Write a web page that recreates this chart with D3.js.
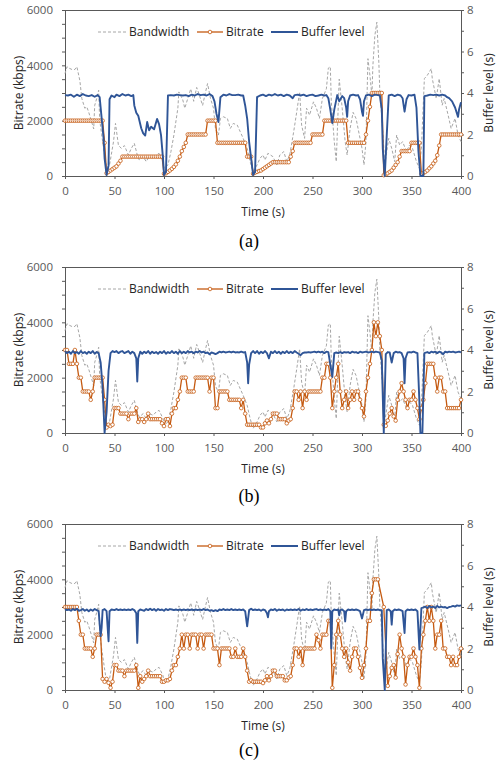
<!DOCTYPE html>
<html>
<head>
<meta charset="utf-8">
<script src="https://cdn.jsdelivr.net/npm/d3@7"></script>
<style>
  body { margin: 0; background: #fff; }
  svg { display: block; }
</style>
</head>
<body>
<div id="chart"></div>
<script>
// ---- data -------------------------------------------------------------
const chunkSeconds = 2; // one bitrate marker per 2 s chunk (null = no chunk in that slot)
const timeTicks = [0, 50, 100, 150, 200, 250, 300, 350, 400];
const rateTicks = [0, 2000, 4000, 6000];
const bufferTicks = [0, 2, 4, 6, 8];
const panelLabels = ["(a)", "(b)", "(c)"];
const seriesNames = ["Bandwidth", "Bitrate", "Buffer level"];

// measured bandwidth, same trace in all three runs: [time s, kbps]
const bandwidth = [
  [0,3700],[2,3950],[4,3900],[7,3850],[10,3850],[12,3950],[15,3450],[17,2800],[20,2450],[22,2500],
  [24,2300],[27,1950],[29,1700],[30,2550],[32,2800],[34,3100],[35,2050],[37,1500],[39,1000],[42,280],
  [45,400],[49,1240],[51,1900],[54,1100],[57,1000],[60,1100],[64,760],[67,1000],[70,1180],[73,760],
  [75,580],[79,700],[82,520],[85,700],[89,640],[92,760],[95,820],[99,520],[100,280],[104,400],
  [107,880],[110,1480],[114,2450],[115,3040],[119,2750],[121,2450],[124,2800],[127,3150],[130,2700],[133,3200],
  [135,3000],[139,2550],[142,3040],[144,3340],[147,2800],[150,2450],[152,1700],[155,1480],[157,2080],[160,2140],
  [164,2080],[167,1720],[170,1900],[174,1840],[177,1600],[180,1360],[184,1000],[187,520],[190,160],[194,400],
  [197,640],[200,760],[202,580],[205,820],[210,700],[214,400],[217,760],[221,880],[224,520],[227,760],
  [231,1600],[234,2300],[237,3040],[239,1840],[242,1360],[244,2450],[247,2200],[251,2680],[254,2450],[257,2080],
  [260,2800],[264,3150],[266,3900],[268,3950],[269,2680],[272,1240],[274,520],[277,3500],[280,2450],[283,1240],
  [285,760],[288,1720],[291,2300],[294,2080],[296,1720],[300,1000],[302,400],[304,1240],[306,4240],[308,3640],
  [310,2900],[311,4000],[313,5080],[315,5560],[317,4120],[318,3040],[321,1600],[323,400],[327,1360],[330,1000],
  [333,520],[335,1480],[338,1120],[341,1240],[345,880],[348,1120],[351,1000],[355,520],[358,280],[360,1000],
  [363,3520],[366,3640],[370,3880],[371,3520],[375,2800],[378,3520],[381,2560],[383,2800],[387,2200],[390,1720],
  [394,2080],[397,1480],[400,1240]
];

// selected bitrate per chunk (kbps), t = 0, 2, 4 ... 400
const bitrateA = [
  2000,2000,2000,2000,2000,2000,2000,2000,2000,2000,
  2000,2000,2000,2000,2000,2000,2000,2000,2000,2000,
  1200,100,150,200,250,300,350,450,550,700,
  700,700,700,700,700,700,700,700,700,700,
  700,700,700,700,700,700,700,700,700,700,
  80,100,150,200,260,330,420,550,700,900,
  1050,1200,1500,1500,1500,1500,1500,1500,1500,1500,
  1500,1500,2000,2000,2000,2000,2000,1200,1200,1200,
  1200,1200,1200,1200,1200,1200,1200,1200,1200,1200,
  1200,1200,700,700,700,80,120,150,180,200,
  250,300,350,400,450,500,500,500,500,500,
  500,500,500,500,700,900,1200,1200,1200,1200,
  1200,1200,1200,1200,1200,1500,1500,1500,1500,1500,
  1500,2000,2000,2000,2000,2000,2000,2000,2000,2000,
  2000,2000,2000,1200,1200,1200,1200,1200,1200,1200,
  1200,1200,1500,2000,2500,3000,3000,3000,3000,3000,
  3000,30,60,100,150,200,300,400,500,700,
  900,900,900,900,900,1200,1200,1200,1200,1200,
  80,100,150,200,280,350,450,550,750,1100,
  1500,1500,1500,1500,1500,1500,1500,1500,1500,1500,
  1500
];
const bitrateB = [
  3000,3000,2500,2500,2500,3000,2500,2000,2000,1500,
  1500,1500,1500,1200,1500,2000,2000,2000,2000,2000,
  1200,200,300,250,300,900,900,900,700,700,
  700,700,500,700,700,700,900,400,500,500,
  400,500,700,500,500,500,500,500,500,350,
  250,500,500,250,700,900,900,1200,1500,2000,
  2000,2000,1500,1500,1500,1500,2000,2000,2000,2000,
  2000,2000,2000,1500,2000,2000,900,900,1500,1500,
  1500,1500,1500,1200,1200,1200,1200,1200,1200,900,
  1200,700,300,300,300,300,300,300,300,200,
  200,350,450,350,500,700,700,700,500,500,
  500,500,350,450,500,900,1500,1500,1200,1500,
  900,1500,1200,1500,1500,1500,1500,1500,1500,1500,
  2000,2000,2500,2500,2000,900,1500,2000,2500,1500,
  900,1200,1500,900,1200,1500,1200,1500,1500,1200,
  900,600,1500,2000,2500,3000,4000,3500,4000,3500,
  3000,300,260,450,700,900,600,450,1200,1500,
  1800,1500,1200,900,1200,1200,1500,1200,900,500,
  900,1200,1800,2500,2500,2500,2500,2000,1500,2000,
  2000,1500,1500,900,900,900,900,900,900,900,
  1200
];
const bitrateC = [
  3000,3000,3000,3000,3000,3000,3000,2500,2000,2000,
  1500,1500,1500,1500,1200,1500,2000,2000,2000,400,
  300,400,260,80,300,900,900,700,700,700,
  500,700,700,700,700,700,900,80,500,300,
  400,500,700,500,500,500,500,500,500,300,
  300,350,350,400,700,900,900,1200,1500,2000,
  1500,2000,2000,1500,2000,2000,2000,1500,2000,2000,
  1500,2000,2000,2000,2000,1500,1500,1500,900,1500,
  1500,1500,1500,1500,1200,1200,1500,1200,1200,1200,
  1500,1200,700,300,350,300,300,300,300,300,
  250,350,500,350,500,700,700,500,500,500,
  500,350,350,450,500,900,1500,1500,1200,1500,
  900,1500,1500,1500,1500,1500,1500,2000,1800,1500,
  2000,2000,2000,2500,2500,80,900,2000,2500,2000,
  1500,1200,1500,1000,700,1200,1500,1500,1200,800,
  440,900,1500,2500,2500,3500,4000,4000,4000,null,
  null,3000,null,150,500,800,900,450,1300,2000,
  1500,1200,200,900,1200,1200,1500,1200,900,80,
  1500,2000,2500,3000,2500,3000,2500,1500,2000,2000,
  2500,1500,1500,1200,1200,900,1200,900,900,1200,
  1500
];

// buffer level (s): [time s, seconds]
const bufferA = [
  [0,3.9],[3,3.88],[6,3.92],[9,3.82],[12,3.92],[15,3.85],[18,3.95],[21,3.88],[24,3.85],[27,3.9],
  [30,3.82],[33,3.9],[35,3.8],[37,2.8],[39,1.8],[40,0.85],[42,0.05],[44,0.5],[45,3.7],[47,3.88],
  [50,3.8],[52,3.92],[55,3.85],[58,3.95],[61,3.88],[64,3.92],[67,3.85],[69,3.9],[70,3.4],[72,3.05],
  [74,2.9],[77,2.3],[79,2.05],[81,1.95],[83,2.6],[85,2.2],[87,2.37],[90,2.25],[93,2.75],[95,2.5],
  [97,1.97],[99,0.85],[100,0.05],[102,0.2],[104,3.88],[107,3.9],[110,3.88],[113,3.92],[116,3.9],[119,3.88],
  [122,3.9],[125,3.85],[128,3.92],[131,3.88],[134,3.95],[137,3.9],[140,3.92],[143,3.88],[146,3.95],[149,3.85],
  [151,3.6],[153,3.0],[155,2.6],[157,3.8],[160,3.92],[163,3.88],[166,3.95],[169,3.9],[172,3.9],[175,3.92],
  [178,3.88],[180,3.88],[182,3.4],[184,2.77],[186,1.65],[188,0.85],[190,0.05],[192,0.2],[194,3.8],[197,3.88],
  [200,3.92],[203,3.85],[206,3.92],[209,3.88],[212,3.95],[215,3.88],[218,3.92],[221,3.85],[224,3.92],[227,3.88],
  [230,3.75],[232,3.9],[235,3.92],[238,3.88],[241,3.92],[244,3.85],[247,3.9],[250,3.92],[253,3.85],[256,3.88],
  [259,3.92],[262,3.88],[264,3.9],[266,3.75],[268,3.2],[270,2.55],[272,3.2],[275,3.9],[277,3.6],[280,3.85],
  [282,3.75],[284,3.3],[285,2.85],[286,3.6],[288,3.88],[291,3.92],[294,3.88],[296,3.9],[298,3.7],[300,3.1],
  [301,2.9],[302,3.6],[304,3.88],[307,3.92],[310,3.85],[313,3.92],[316,3.9],[318,3.88],[320,3.2],[321,1.3],
  [323,0.0],[325,1.97],[327,3.88],[330,3.92],[333,3.85],[336,3.92],[339,3.88],[341,3.75],[343,3.1],[345,3.7],
  [347,3.9],[350,3.88],[353,3.92],[355,3.3],[357,1.2],[359,0.0],[362,0.0],[363,3.85],[366,3.88],[369,3.92],
  [372,3.9],[375,3.92],[378,3.88],[381,3.92],[384,3.88],[386,3.8],[388,3.75],[391,3.6],[394,3.3],[397,2.85],
  [398,3.2],[400,3.55]
];
const bufferB = [
  [0,3.95],[2,3.85],[4,3.92],[6,3.82],[8,3.95],[10,3.85],[12,3.9],[14,3.82],[16,3.95],[18,3.85],
  [20,3.9],[22,3.82],[24,3.92],[26,3.85],[28,3.95],[30,3.82],[32,3.9],[34,3.85],[36,3.4],[38,2.2],
  [40,0],[42,1.0],[44,3.0],[46,3.85],[48,3.95],[50,3.9],[52,3.95],[54,3.85],[56,3.92],[58,3.95],
  [60,3.85],[62,3.9],[64,3.95],[66,3.82],[68,3.92],[70,3.85],[72,3.6],[73,2.48],[74,3.6],[76,3.92],
  [78,3.82],[80,3.92],[82,3.85],[84,3.95],[86,3.82],[88,3.92],[90,3.85],[92,3.9],[94,3.82],[96,3.92],
  [98,3.85],[100,3.95],[102,3.82],[104,3.9],[106,3.85],[108,3.95],[110,3.85],[112,3.92],[114,3.82],[116,3.95],
  [118,3.85],[120,3.92],[122,3.85],[124,3.95],[126,3.88],[128,3.92],[130,3.85],[132,3.92],[134,3.88],[136,3.95],
  [138,3.88],[140,3.92],[142,3.85],[144,3.88],[146,3.8],[148,3.88],[150,3.85],[152,3.8],[154,3.85],[156,3.92],
  [158,3.88],[160,3.92],[162,3.88],[164,3.9],[166,3.92],[168,3.88],[170,3.92],[172,3.88],[174,3.9],[176,3.88],
  [178,3.92],[180,3.88],[182,3.9],[184,3.4],[185,2.4],[186,3.3],[188,3.85],[190,3.95],[192,3.85],[194,3.95],
  [196,3.82],[198,3.92],[200,3.85],[202,3.95],[204,3.85],[206,3.6],[208,3.92],[210,3.85],[212,3.95],[214,3.85],
  [216,3.92],[218,3.82],[220,3.92],[222,3.85],[224,3.95],[226,3.85],[228,3.92],[230,3.85],[232,3.95],[234,3.88],
  [236,3.82],[238,3.75],[240,3.85],[242,3.88],[244,3.88],[246,3.9],[248,3.88],[250,3.9],[252,3.92],[254,3.88],
  [256,3.92],[258,3.88],[260,3.92],[262,3.85],[264,3.92],[266,3.9],[268,3.3],[270,2.7],[272,3.85],[274,3.88],
  [276,3.85],[278,3.9],[280,3.85],[282,3.9],[284,3.88],[286,3.9],[288,3.85],[290,3.92],[292,3.88],[294,3.9],
  [296,3.85],[298,3.92],[300,3.88],[302,3.9],[304,3.92],[306,3.88],[308,3.9],[310,3.92],[312,3.88],[314,3.92],
  [316,3.9],[318,3.88],[320,3.5],[322,0],[324,3.8],[326,3.9],[328,3.88],[330,3.4],[332,3.85],[334,3.92],
  [336,3.88],[338,3.9],[340,3.85],[342,3.6],[343,2.4],[344,3.6],[346,3.88],[348,3.9],[350,3.88],[352,3.92],
  [354,3.88],[356,3.85],[358,1.5],[359,0],[361,0],[363,3.85],[366,3.9],[368,3.85],[370,3.92],[372,3.88],
  [374,3.92],[376,3.85],[378,3.92],[380,3.88],[382,3.8],[384,3.92],[386,3.88],[388,3.92],[390,3.9],[392,3.92],
  [394,3.88],[396,3.9],[398,3.92],[400,3.88]
];
const bufferC = [
  [0,3.9],[2,3.85],[4,3.88],[6,3.82],[8,3.9],[10,3.85],[12,3.92],[14,3.82],[16,3.85],[18,3.9],
  [20,3.82],[22,3.88],[24,3.8],[26,3.88],[28,3.82],[30,3.9],[32,3.85],[34,3.8],[36,2.6],[37,3.0],
  [38,3.85],[40,3.9],[42,3.8],[44,2.35],[45,3.8],[47,3.88],[50,3.85],[52,3.9],[54,3.85],[56,3.88],
  [58,3.85],[60,3.88],[62,3.85],[64,3.88],[66,3.85],[68,3.9],[70,3.85],[72,3.7],[73,2.27],[74,3.8],
  [76,3.88],[78,3.85],[80,3.82],[82,3.9],[84,3.85],[86,3.92],[88,3.85],[90,3.9],[92,3.82],[94,3.9],
  [96,3.85],[98,3.88],[100,3.82],[102,3.9],[104,3.85],[106,3.9],[108,3.88],[110,3.85],[112,3.88],[114,3.85],
  [116,3.88],[118,3.85],[120,3.88],[122,3.85],[124,3.88],[126,3.85],[128,3.88],[130,3.85],[132,3.88],[134,3.85],
  [136,3.88],[138,3.85],[140,3.9],[142,3.85],[144,3.88],[146,3.82],[148,3.85],[150,3.8],[152,3.85],[154,3.8],
  [156,3.88],[158,3.85],[160,3.9],[162,3.85],[164,3.88],[166,3.85],[168,3.9],[170,3.85],[172,3.88],[174,3.85],
  [176,3.88],[178,3.85],[180,3.88],[182,3.8],[184,3.07],[186,3.85],[188,3.92],[190,3.85],[192,3.88],[194,3.85],
  [196,3.88],[198,3.82],[200,3.88],[202,3.85],[204,3.7],[205,3.5],[206,3.8],[208,3.88],[210,3.85],[212,3.9],
  [214,3.82],[216,3.88],[218,3.85],[220,3.88],[222,3.82],[224,3.88],[226,3.85],[228,3.88],[230,3.85],[232,3.88],
  [234,3.85],[236,3.9],[238,3.82],[240,3.88],[242,3.85],[244,3.9],[246,3.85],[248,3.88],[250,3.85],[252,3.88],
  [254,3.9],[256,3.85],[258,3.88],[260,3.85],[262,3.88],[264,3.85],[266,3.9],[268,3.8],[269,2.0],[270,3.8],
  [272,3.88],[274,3.85],[276,3.88],[277,3.6],[278,3.85],[280,3.88],[282,3.8],[283,3.3],[284,3.8],[286,3.88],
  [288,3.85],[290,3.88],[292,3.85],[294,3.88],[296,3.85],[298,3.8],[300,3.45],[302,3.85],[304,3.88],[306,3.85],
  [308,3.88],[310,3.85],[312,3.88],[314,3.85],[316,3.88],[318,3.85],[320,3.85],[321,1.5],[323,0],[325,3.85],
  [327,3.88],[329,3.8],[330,3.15],[331,3.8],[333,3.88],[335,3.85],[337,3.88],[339,3.85],[341,3.8],[343,2.75],
  [344,3.8],[346,3.88],[348,3.85],[350,3.88],[352,3.85],[354,3.88],[356,3.8],[358,1.95],[360,3.95],[362,3.98],
  [364,4.02],[366,3.95],[368,4.05],[370,3.98],[372,4.02],[374,3.95],[376,4.05],[378,3.98],[380,4.02],[382,3.98],
  [384,4.0],[386,3.95],[388,4.0],[390,4.02],[392,4.05],[394,4.02],[396,4.08],[398,4.05],[400,4.08]
];

// ---- layout -----------------------------------------------------------
const W = 497, H = 770;
const plotLeft = 65, plotRight = 461, plotHeight = 166;
const panels = [
  { label: panelLabels[0], bitrate: bitrateA, buffer: bufferA, top: 10, captionY: 241 },
  { label: panelLabels[1], bitrate: bitrateB, buffer: bufferB, top: 267, captionY: 496 },
  { label: panelLabels[2], bitrate: bitrateC, buffer: bufferC, top: 524, captionY: 750 }
];

const font = "'Open Sans', 'Liberation Sans', sans-serif";
const bwColor = "#a6a6a6";
const rateColor = "#c55a11";
const bufColor = "#2f5597";
const axisColor = "#595959";

const svg = d3.select("#chart")
  .append("svg")
  .attr("width", W)
  .attr("height", H)
  .style("background", "#fff");

const x = d3.scaleLinear().domain([0, 400]).range([plotLeft, plotRight]);

panels.forEach(drawPanel);

function styleAxis(g) {
  g.select("path.domain").remove();
  g.selectAll(".tick line").attr("stroke", axisColor);
  g.selectAll(".tick text")
    .attr("fill", axisColor)
    .style("font-family", font)
    .style("font-size", "11.5px");
}

function drawPanel(p) {
  const top = p.top;
  const bottom = top + plotHeight;
  const yRate = d3.scaleLinear().domain([0, 6000]).range([bottom, top]);
  const yBuf = d3.scaleLinear().domain([0, 8]).range([bottom, top]);
  const g = svg.append("g");

  // Axes
  g.append("g")
    .attr("transform", `translate(${plotLeft},0)`)
    .call(d3.axisLeft(yRate)
      .tickValues(d3.range(0, 6001, 500))
      .tickSize(3)
      .tickPadding(9)
      .tickFormat(d => rateTicks.includes(d) ? d : ""))
    .call(styleAxis);

  g.append("g")
    .attr("transform", `translate(${plotRight},0)`)
    .call(d3.axisRight(yBuf)
      .tickValues(d3.range(0, 9, 1))
      .tickSize(3)
      .tickPadding(3)
      .tickFormat(d => bufferTicks.includes(d) ? d : ""))
    .call(styleAxis);

  g.append("g")
    .attr("transform", `translate(0,${bottom})`)
    .call(d3.axisBottom(x).tickValues(timeTicks).tickSize(3).tickPadding(8))
    .call(styleAxis);

  // frame
  g.append("rect")
    .attr("x", plotLeft + 0.5)
    .attr("y", top + 0.5)
    .attr("width", plotRight - plotLeft)
    .attr("height", plotHeight)
    .attr("fill", "none")
    .attr("stroke", axisColor)
    .attr("stroke-width", 1);

  // Axis titles
  g.append("text")
    .attr("transform", `translate(19,${top + plotHeight / 2}) rotate(-90)`)
    .attr("text-anchor", "middle")
    .attr("dy", "0.35em")
    .style("font-family", font)
    .style("font-size", "12px")
    .attr("fill", "#262626")
    .text("Bitrate (kbps)");

  g.append("text")
    .attr("transform", `translate(489,${top + plotHeight / 2}) rotate(-90)`)
    .attr("text-anchor", "middle")
    .attr("dy", "0.35em")
    .style("font-family", font)
    .style("font-size", "12px")
    .attr("fill", "#262626")
    .text("Buffer level (s)");

  g.append("text")
    .attr("x", (plotLeft + plotRight) / 2)
    .attr("y", bottom + 36)
    .attr("text-anchor", "middle")
    .attr("dy", "0.35em")
    .style("font-family", font)
    .style("font-size", "12px")
    .attr("fill", "#262626")
    .text("Time (s)");

  // Bandwidth (dashed)
  const bwLine = d3.line().x(d => x(d[0])).y(d => yRate(d[1]));
  g.append("path")
    .datum(bandwidth)
    .attr("d", bwLine)
    .attr("fill", "none")
    .attr("stroke", bwColor)
    .attr("stroke-width", 1)
    .attr("stroke-dasharray", "3,2");

  // Bitrate with markers
  const ratePts = p.bitrate
    .map((v, i) => [i * chunkSeconds, v])
    .filter(d => d[1] != null);
  g.append("path")
    .datum(ratePts)
    .attr("d", d3.line().x(d => x(d[0])).y(d => yRate(d[1])))
    .attr("fill", "none")
    .attr("stroke", rateColor)
    .attr("stroke-width", 1.3);
  g.append("g")
    .selectAll("circle")
    .data(ratePts)
    .join("circle")
    .attr("cx", d => x(d[0]))
    .attr("cy", d => yRate(d[1]))
    .attr("r", 1.8)
    .attr("fill", "#fff")
    .attr("stroke", rateColor)
    .attr("stroke-width", 0.8);

  // Buffer level (secondary axis)
  g.append("path")
    .datum(p.buffer)
    .attr("d", d3.line().x(d => x(d[0])).y(d => yBuf(d[1])))
    .attr("fill", "none")
    .attr("stroke", bufColor)
    .attr("stroke-width", 1.9)
    .attr("stroke-linejoin", "round");

  // Legend
  const ly = top + 22;
  const legend = g.append("g")
    .style("font-family", font)
    .style("font-size", "12px");
  const items = [
    { name: seriesNames[0], x1: 98, x2: 126, color: bwColor, dash: "3,2", w: 1, marker: false },
    { name: seriesNames[1], x1: 197, x2: 223, color: rateColor, dash: null, w: 1.3, marker: true },
    { name: seriesNames[2], x1: 271, x2: 298, color: bufColor, dash: null, w: 2, marker: false }
  ];
  items.forEach(it => {
    legend.append("line")
      .attr("x1", it.x1).attr("x2", it.x2)
      .attr("y1", ly).attr("y2", ly)
      .attr("stroke", it.color)
      .attr("stroke-width", it.w)
      .attr("stroke-dasharray", it.dash);
    if (it.marker) {
      legend.append("circle")
        .attr("cx", (it.x1 + it.x2) / 2).attr("cy", ly)
        .attr("r", 1.8)
        .attr("fill", "#fff")
        .attr("stroke", it.color)
        .attr("stroke-width", 0.8);
    }
    legend.append("text")
      .attr("x", it.x2 + 3)
      .attr("y", ly)
      .attr("dy", "0.35em")
      .attr("fill", "#262626")
      .text(it.name);
  });

  // Caption
  svg.append("text")
    .attr("x", 249)
    .attr("y", p.captionY)
    .attr("text-anchor", "middle")
    .attr("dy", "0.35em")
    .style("font-family", "'Liberation Serif', 'Times New Roman', serif")
    .style("font-size", "18px")
    .attr("fill", "#000")
    .text(p.label);
}
</script>
</body>
</html>
